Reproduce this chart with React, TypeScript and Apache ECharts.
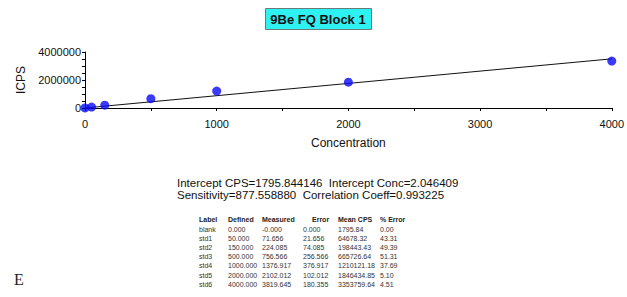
import React, { useEffect, useRef } from "react";
import * as echarts from "echarts";

const titleText = "9Be FQ Block 1";
const xTicks = [0, 1000, 2000, 3000, 4000];
const yTicks = [0, 2000000, 4000000];
const concentrations = [0, 50, 150, 500, 1000, 2000, 4000];
const meanCps = [1795.84, 64678.32, 198443.43, 665726.64, 1210121.18, 1846434.85, 3353759.64];
const fitX = [0, 4000];
const fitY = [1795.844146, 3512031.37];
const statLines = [
  "Intercept CPS=1795.844146  Intercept Conc=2.046409",
  "Sensitivity=877.558880  Correlation Coeff=0.993225",
];
const tableHeader = ["Label", "Defined", "Measured", "Error", "Mean CPS", "% Error"];
const rowLabels = ["blank", "std1", "std2", "std3", "std4", "std5", "std6"];
const definedVals = ["0.000", "50.000", "150.000", "500.000", "1000.000", "2000.000", "4000.000"];
const measuredVals = ["-0.000", "71.656", "224.085", "756.566", "1376.917", "2102.012", "3819.645"];
const errorVals = ["0.000", "21.656", "74.085", "256.566", "376.917", "102.012", "180.355"];
const meanCpsText = ["1795.84", "64678.32", "198443.43", "665726.64", "1210121.18", "1846434.85", "3353759.64"];
const pctErrorVals = ["0.00", "43.31", "49.39", "51.31", "37.69", "5.10", "4.51"];

export default function App() {
  const ref = useRef<HTMLDivElement>(null);
  useEffect(() => {
    const chart = echarts.init(ref.current!, null, { renderer: "svg" });
    const colX = [199, 228, 262, 303, 338, 380];
    const headerX = [199, 228, 262, 312, 338, 380];
    const rowY0 = 229;
    const rowDy = 9.2;
    const columns = [rowLabels, definedVals, measuredVals, errorVals, meanCpsText, pctErrorVals];
    const tableTexts: any[] = [];
    tableHeader.forEach((h, i) => {
      tableTexts.push({
        type: "text",
        x: headerX[i],
        y: 219,
        style: { text: h, font: "bold 7px 'Liberation Sans', Arial, sans-serif", fill: "#222", verticalAlign: "middle" },
      });
    });
    columns.forEach((col, ci) => {
      col.forEach((v, ri) => {
        tableTexts.push({
          type: "text",
          x: colX[ci],
          y: rowY0 + ri * rowDy,
          style: { text: v, font: "7px 'Liberation Sans', Arial, sans-serif", fill: "#333", verticalAlign: "middle" },
        });
      });
    });
    chart.setOption({
      animation: false,
      backgroundColor: "#ffffff",
      grid: { left: 85, right: 11, top: 52, bottom: 189, containLabel: false },
      xAxis: {
        type: "value",
        min: 0,
        max: 4000,
        interval: 1000,
        name: "Concentration",
        nameLocation: "middle",
        nameGap: 29,
        nameTextStyle: { fontFamily: "'Liberation Sans', Arial, sans-serif", fontSize: 12, color: "#111" },
        axisLine: { show: true, lineStyle: { color: "#000", width: 1 } },
        axisTick: { show: true, length: 3, lineStyle: { color: "#000" } },
        minorTick: { show: true, splitNumber: 2, length: 3, lineStyle: { color: "#000" } },
        axisLabel: {
          margin: 10,
          fontFamily: "'Liberation Sans', Arial, sans-serif",
          fontSize: 11,
          color: "#111",
          customValues: xTicks,
          formatter: (v: number) => String(v),
        },
        splitLine: { show: false },
      },
      yAxis: {
        type: "value",
        min: 0,
        max: 4000000,
        interval: 2000000,
        name: "ICPS",
        nameLocation: "middle",
        nameGap: 57,
        nameRotate: 90,
        nameTextStyle: { fontFamily: "'Liberation Sans', Arial, sans-serif", fontSize: 12, color: "#111" },
        axisLine: { show: true, lineStyle: { color: "#000", width: 1 } },
        axisTick: { show: true, length: 3, lineStyle: { color: "#000" } },
        minorTick: { show: true, splitNumber: 4, length: 3, lineStyle: { color: "#000" } },
        axisLabel: {
          margin: 4,
          fontFamily: "'Liberation Sans', Arial, sans-serif",
          fontSize: 11,
          color: "#111",
          customValues: yTicks,
          formatter: (v: number) => String(v),
        },
        splitLine: { show: false },
      },
      series: [
        {
          type: "line",
          data: fitX.map((x, i) => [x, fitY[i]]),
          symbol: "none",
          lineStyle: { color: "#111", width: 1 },
          z: 2,
        },
        {
          type: "scatter",
          data: concentrations.map((x, i) => [x, meanCps[i]]),
          symbol: "circle",
          symbolSize: 9,
          itemStyle: { color: "#0a0af5" },
          z: 3,
        },
      ],
      graphic: [
        {
          type: "rect",
          shape: { x: 265.5, y: 8.5, width: 106, height: 21 },
          style: { fill: "#2ef2f2", stroke: "#6a7a7a", lineWidth: 1 },
        },
        {
          type: "text",
          x: 318,
          y: 19,
          style: {
            text: titleText,
            font: "bold 13px 'Liberation Sans', Arial, sans-serif",
            fill: "#111",
            align: "center",
            verticalAlign: "middle",
          },
        },
        ...statLines.map((t, i) => ({
          type: "text",
          x: 177,
          y: 183 + i * 12,
          style: { text: t, font: "11.5px 'Liberation Sans', Arial, sans-serif", fill: "#111", verticalAlign: "middle", lineHeight: 12 },
        })),
        ...tableTexts,
        {
          type: "text",
          x: 14,
          y: 279,
          style: { text: "E", font: "16px 'Liberation Serif', 'DejaVu Serif', serif", fill: "#222", verticalAlign: "middle" },
        },
      ],
    });
    return () => chart.dispose();
  }, []);
  return (
    <div
      ref={ref}
      style={{ position: "absolute", left: 0, top: 0, width: 627, height: 297 }}
    />
  );
}
